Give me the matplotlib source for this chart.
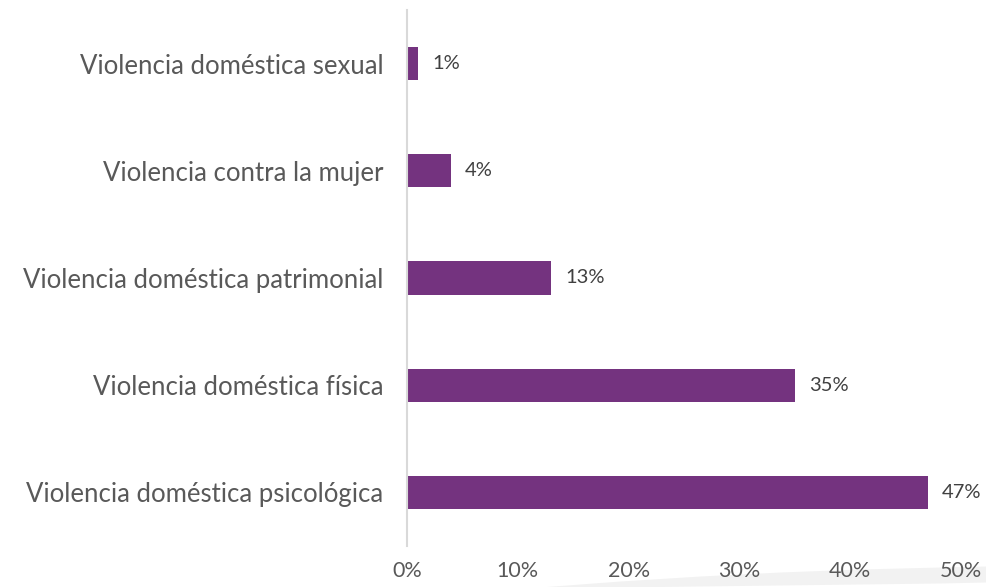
import matplotlib
matplotlib.use("Agg")
import matplotlib.pyplot as plt
from matplotlib.ticker import FuncFormatter

categories = ["Violencia doméstica psicológica", "Violencia doméstica física",
              "Violencia doméstica patrimonial", "Violencia contra la mujer",
              "Violencia doméstica sexual"]
values = [0.47, 0.35, 0.13, 0.04, 0.01]
xticks = [0, 0.1, 0.2, 0.3, 0.4, 0.5]

plt.rcParams['font.family'] = ['Lato', 'DejaVu Sans']
txt = "#595959"
bar_color = "#74337F"

fig = plt.figure(figsize=(9.86, 5.87), dpi=100)
ax = fig.add_axes([407/986, 1 - 546/587, (961 - 407)/986, 536/587])

pos = list(range(len(categories)))
ax.barh(pos, values, height=0.31, color=bar_color)
for p, v in zip(pos, values):
    ax.text(v + 0.0125, p, "{:.0%}".format(v), va="center", ha="left",
            fontsize=14.5, color="#404040")

ax.set_xlim(0, 0.5)
ax.set_ylim(-0.5, len(categories) - 0.5)
ax.set_yticks(pos)
ax.set_yticklabels(categories, fontsize=18.5, color=txt)
ax.set_xticks(xticks)
ax.xaxis.set_major_formatter(FuncFormatter(lambda x, _: "{:.0%}".format(x)))
ax.tick_params(axis="x", labelsize=15.5, labelcolor=txt, length=0, pad=11)
ax.tick_params(axis="y", length=0, pad=17)
for s in ["top", "right", "bottom"]:
    ax.spines[s].set_visible(False)
ax.spines["left"].set_color("#D9D9D9")
ax.spines["left"].set_linewidth(1.5)
ax.set_facecolor("none")

# faint grey swoosh under the axis labels
bg = fig.add_axes([0, 0, 1, 1], zorder=-1)
bg.set_xlim(0, 986)
bg.set_ylim(587, 0)
bg.axis("off")
xs = [540, 620, 700, 780, 860, 940, 986]
top = [587, 581, 576, 572, 569, 567, 566]
bot = [587, 587, 586, 585, 584, 583, 582]
bg.fill_between(xs, top, bot, color="#B8B8B8", alpha=0.18, lw=0)

fig.savefig("out.png", dpi=100)
